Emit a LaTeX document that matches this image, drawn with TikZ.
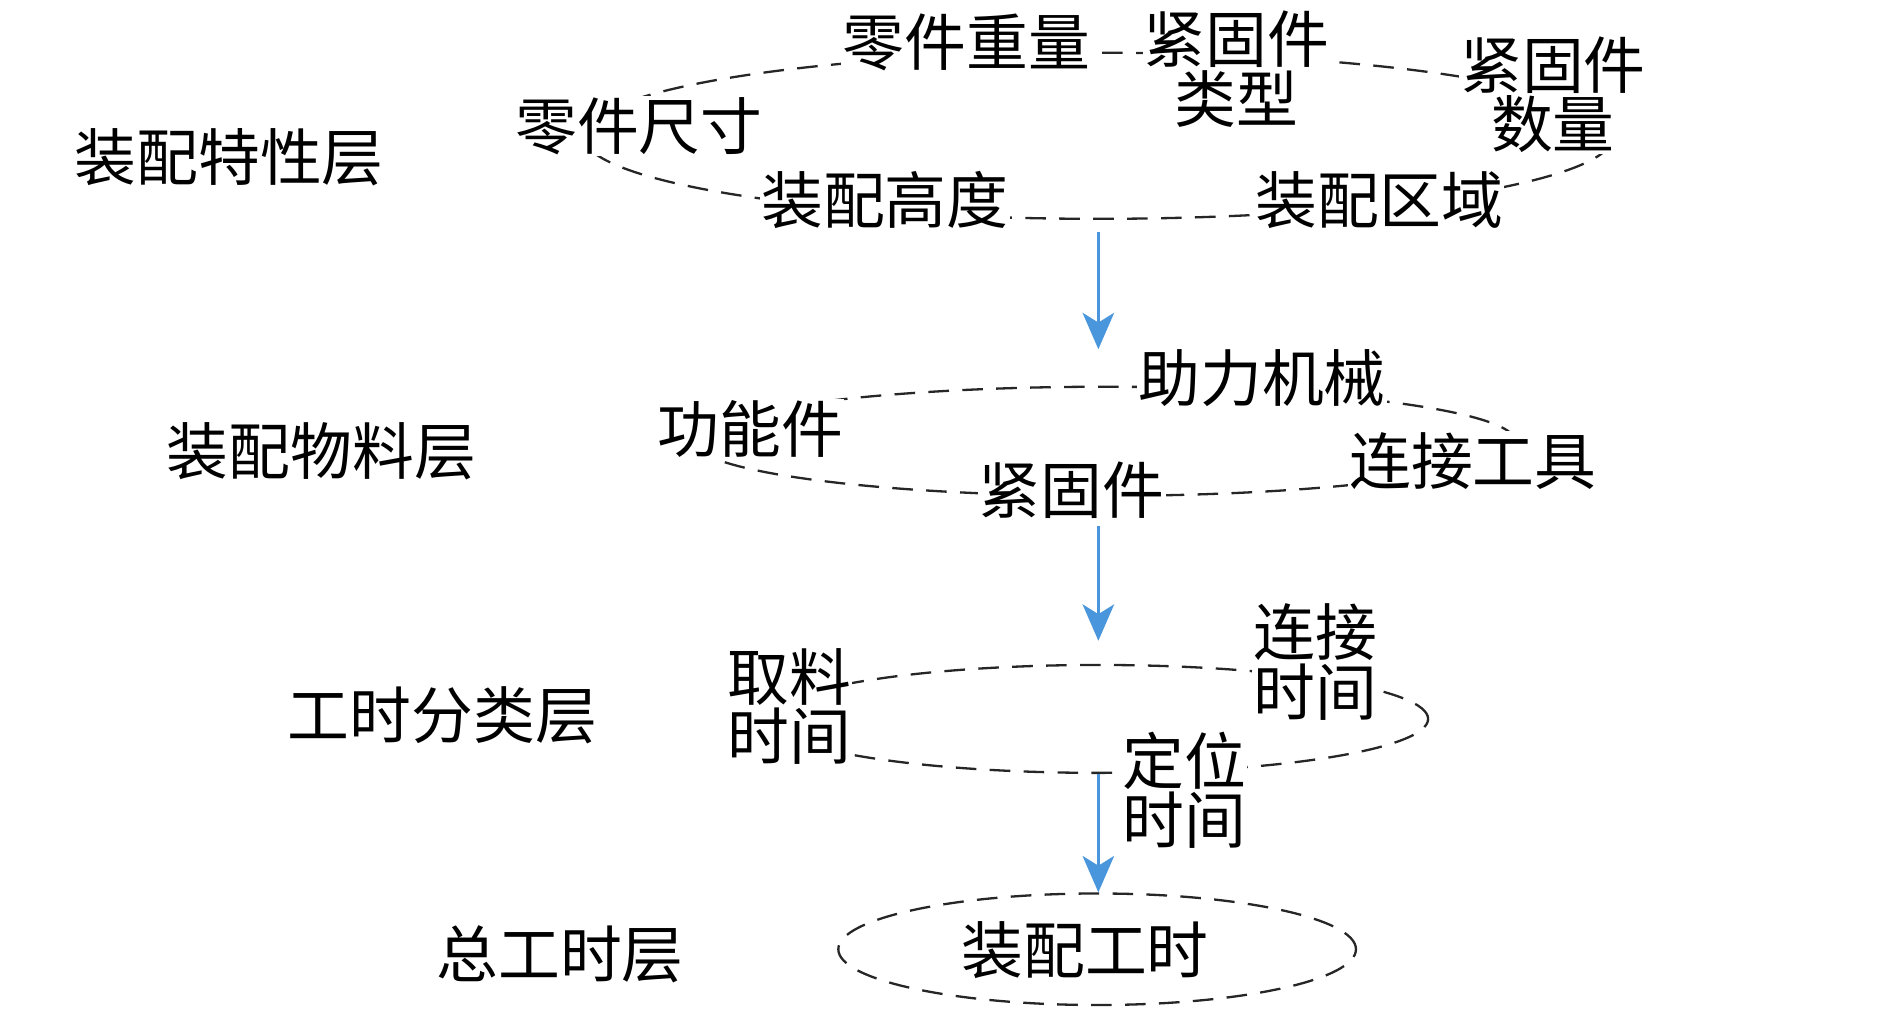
\documentclass[tikz,border=0pt]{standalone}
\usepackage{fontspec}
\setmainfont{Noto Sans CJK SC}
\usetikzlibrary{positioning}
\usetikzlibrary{arrows.meta}
\usetikzlibrary{shapes.geometric}

\definecolor{flowblue}{HTML}{4A96DC}

\tikzset{
	ring/.style = {draw = black!85, ellipse, dash pattern = on 17pt off 11pt, line width = 1.9pt, inner sep = 0pt},
	item/.style = {fill = white, inner sep = 1pt, align = center, font = \fontsize{51}{49}\selectfont},
	layername/.style = {inner sep = 0pt, font = \fontsize{51}{49}\selectfont},
	flow/.style = {flowblue, line width = 2.2pt, -{Stealth[length = 30pt, width = 26pt, inset = 8pt]}}
}

\begin{document}
\begin{tikzpicture}[x = 1pt, y = -1pt]
							\useasboundingbox (0, 0) rectangle (1559, 838);
							\node[ring, minimum width = 850pt, minimum height = 137pt] (e1) at (906, 112) {};
							\node[ring, minimum width = 678pt, minimum height = 90pt] (e2) at (911, 364) {};
							\node[ring, minimum width = 544pt, minimum height = 89pt] (e3) at (906, 593) {};
							\node[ring, minimum width = 427pt, minimum height = 92pt] (e4) at (905, 783) {};
							\node[layername] (l1) at (189, 130) {装配特性层};
							\node[layername] (l2) at (265, 372) {装配物料层};
							\node[layername] (l3) at (365, 590) {工时分类层};
							\node[layername] (l4) at (462, 787) {总工时层};
							\node[item] (weight) at (797, 35) {零件重量};
							\node[item] (ftype) at (1020, 57) {紧固件\\类型};
							\node[item] (fnum) at (1281, 78) {紧固件\\数量};
							\node[item] (size) at (527, 104) {零件尺寸};
							\node[item] (height) at (730, 165) {装配高度};
							\node[item] (area) at (1138, 165) {装配区域};
							\node[item] (assist) at (1041, 312) {助力机械};
							\node[item] (func) at (619, 354) {功能件};
							\node[item] (fast) at (884, 404) {紧固件};
							\node[item] (tool) at (1215, 380) {连接工具};
							\node[item] (pick) at (651, 583) {取料\\时间};
							\node[item] (join) at (1085, 546) {连接\\时间};
							\node[item] (place) at (977, 652) {定位\\时间};
							\node[item, fill = none] (total) at (895, 784) {装配工时};
							\draw[flow, shorten <= 10pt, shorten >= 30pt] (e3.north |- e1.south) -- (e3.north |- e2.north);
							\draw[flow, shorten <= 24pt, shorten >= 19pt] (e3.north |- e2.south) -- (e3.north);
							\draw[flow] (e3.south) -- (e3.south |- e4.north);
						\end{tikzpicture}
\end{document}
